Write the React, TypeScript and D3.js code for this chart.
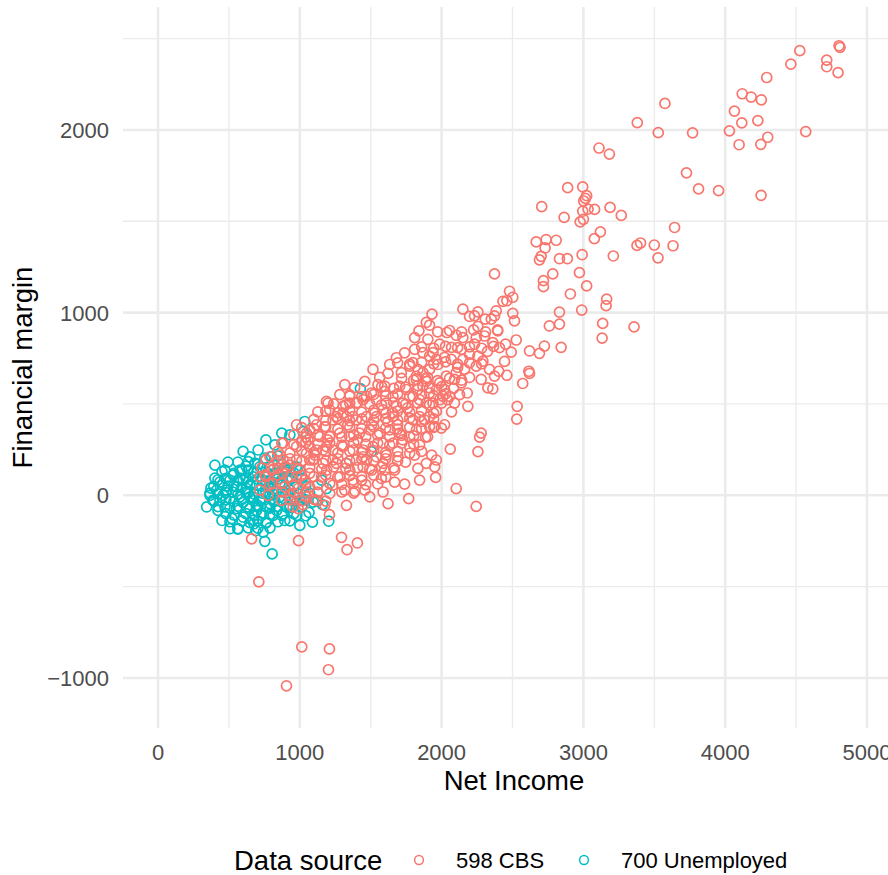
import React, { useEffect, useRef } from "react";
import * as d3 from "d3";

// Net Income vs Financial margin
const cbsPoints: [number, number][] = [
  [4803, 2461], [4810, 2452], [4526, 2434], [4463, 2360], [4716, 2382], [4716, 2346], [4796, 2314],
  [4293, 2287], [4120, 2198], [4183, 2180], [4255, 2165], [3575, 2145], [4065, 2103], [4117, 2039],
  [4230, 2051], [3380, 2040], [3528, 1985], [3770, 1984], [4030, 1995], [4568, 1991], [4300, 1960],
  [4098, 1919], [4251, 1921], [3110, 1901], [3183, 1868], [3727, 1765], [3812, 1677], [3953, 1668],
  [4253, 1642], [2889, 1684], [2995, 1688], [3023, 1640], [3014, 1625], [3002, 1611], [2995, 1555],
  [3033, 1566], [3079, 1565], [3188, 1576], [3267, 1532], [2864, 1521], [2977, 1497], [3000, 1511],
  [3643, 1466], [3120, 1442], [3077, 1405], [3378, 1368], [3403, 1381], [3500, 1370], [3632, 1366],
  [3526, 1300], [2991, 1317], [2887, 1295], [2831, 1295], [3211, 1310], [2972, 1219], [3023, 1146],
  [2908, 1102], [3164, 1074], [3160, 1038], [2988, 1014], [2831, 1003], [3136, 941], [3357, 922],
  [3132, 860], [2831, 937], [2843, 810],
  [2706, 1580], [2667, 1387], [2737, 1400], [2808, 1396], [2730, 1354], [2702, 1308], [2690, 1289],
  [2784, 1212], [2718, 1175], [2718, 1142], [2373, 1212], [2479, 1117], [2502, 1084], [2432, 1062],
  [2460, 1065], [2150, 1019], [2197, 979], [2256, 1004], [2232, 982], [2308, 964], [2350, 964],
  [2385, 1010], [2373, 982], [2502, 996], [2514, 955], [1932, 992], [1892, 946], [2760, 927],
  [2256, 924], [2396, 900], [1915, 931], [1840, 900], [1810, 863], [1903, 854], [2037, 891],
  [2103, 876], [2150, 863], [2244, 863], [2303, 872], [2361, 836], [2408, 808], [2451, 827],
  [2526, 850], [2491, 784], [2620, 790], [2690, 777], [2725, 817], [2615, 679], [2620, 667],
  [2572, 612], [2533, 487], [2530, 417], [2460, 657], [2361, 582], [2326, 588], [2279, 634],
  [2373, 652], [2403, 679], [2244, 707], [2181, 560], [2185, 487], [2091, 505], [2056, 542],
  [2139, 615], [2103, 671], [2068, 744], [2150, 744], [2197, 771], [2256, 762], [2291, 734],
  [2033, 652], [1986, 615], [2009, 542], [1963, 579], [1915, 560], [1868, 597], [1798, 726],
  [1810, 799], [1915, 762], [1963, 744], [1868, 671], [1822, 652], [1775, 707], [1716, 671],
  [1681, 753], [1622, 667], [1516, 689], [1551, 606], [1599, 569], [1657, 542], [1704, 597],
  [1751, 579], [1798, 542], [1845, 523], [1892, 505], [1939, 505], [1986, 523], [1727, 505],
  [1681, 487], [1610, 505], [1540, 523], [1470, 542], [1399, 505], [1352, 542], [1282, 551],
  [1305, 487], [1258, 431], [1329, 431], [1399, 413], [1470, 431], [1540, 431], [1587, 468],
  [1657, 431], [1727, 431], [1798, 413], [1845, 431], [1915, 431], [1963, 459], [1998, 368],
  [1915, 376], [1822, 358], [1775, 321], [1704, 340], [1634, 358], [1563, 340], [1493, 358],
  [1422, 340], [1352, 321], [1282, 340], [1211, 321], [1234, 248], [1305, 266], [1375, 248],
  [1446, 248], [1516, 266], [1587, 285], [1657, 285], [1692, 211], [1610, 220], [1540, 211],
  [1470, 193], [1399, 193], [1329, 175], [1258, 175], [1282, 101], [1375, 83], [1446, 156],
  [1575, 92], [1599, 138], [1810, 220], [1833, 147], [1892, 175], [1951, 156], [1958, 98],
  [1739, 61], [1768, -18], [1622, -46], [1493, -9], [1587, 18], [2061, 253], [2103, 37],
  [2256, 239], [2268, 318], [2279, 340], [2244, -61], [1329, -55],
  [1868, 781], [1939, 781], [1833, 689], [1915, 689], [1974, 716], [1822, 634], [1892, 624],
  [1599, 597], [1188, 514], [1352, 505], [1446, 523], [1505, 560], [1118, 386], [1176, 376],
  [1234, 413], [1305, 450], [1375, 431], [1528, 450], [1657, 450], [1880, 413], [1951, 376],
  [1058, 303], [1141, 321], [1188, 266], [1118, 248], [1047, 230], [1094, 193], [1164, 175],
  [1234, 193], [1446, 211], [1587, 175], [1963, 193],
  [977, 386], [1199, 505], [1047, 340], [882, 285], [977, 266], [1070, 266], [1164, 248],
  [789, 211], [882, 193], [977, 193], [1070, 193], [718, 101], [801, 138], [882, 120],
  [977, 101], [1070, 120], [1153, 101], [718, 28], [812, 64], [894, 46], [988, 37],
  [1070, 46], [871, -28], [953, -64], [1047, -9], [1118, -28], [988, -73],
  [660, -239], [991, -248], [711, -474], [1294, -230], [1333, -298], [1406, -261], [1209, -106],
  [1389, 22], [1014, -830], [1209, -841], [1202, -955], [906, -1043], [1023, -51],
  [1014, 292], [1106, 220], [1190, 138], [1232, 55], [930, 165], [1035, 83], [1127, 17],
  [1317, 28], [1352, 138], [1437, 83], [1507, 138], [1669, 138], [1746, 182], [1775, 264],
  [1725, 303], [1845, 276], [1901, 320], [2021, 386], [2070, 457], [2042, 523], [2127, 551],
  [2197, 645], [2113, 700], [2021, 755], [1986, 827], [2070, 810], [2141, 799], [1739, 780],
  [1634, 716], [1563, 645], [1458, 623], [1387, 590], [1317, 606], [1211, 468], [1127, 457],
  [1070, 358], [859, 220], [845, 149], [753, 110], [775, 0], [930, 0], [1176, -55],
  [1458, 28], [1669, 72], [1845, 83], [1930, 220], [1620, 402], [1690, 386], [1761, 479],
  [1831, 579], [1901, 645], [2021, 579], [2091, 634], [2162, 689], [2232, 827], [2324, 788],
  [2444, 733], [2338, 689], [1408, 303], [1507, 386], [1338, 386], [1197, 303],
  // dense core of the band
  [1718, 640], [1803, 630], [1887, 638], [1972, 628], [2056, 640], [2141, 630],
  [1577, 595], [1662, 585], [1746, 592], [1831, 600], [1915, 588], [2000, 595], [2084, 585],
  [1352, 550], [1437, 540], [1521, 552], [1606, 545], [1690, 555], [1775, 540], [1859, 550],
  [1944, 545], [2028, 555],
  [1239, 500], [1324, 495], [1408, 508], [1493, 500], [1577, 495], [1662, 508], [1746, 498],
  [1831, 505], [1915, 495], [2000, 505],
  [1183, 460], [1268, 452], [1352, 462], [1437, 455], [1521, 465], [1606, 450], [1690, 460],
  [1775, 455], [1859, 465], [1944, 450],
  [1099, 415], [1183, 410], [1268, 420], [1352, 408], [1437, 418], [1521, 410], [1606, 420],
  [1690, 412], [1775, 422], [1859, 405], [1944, 418],
  [1014, 370], [1099, 365], [1183, 375], [1268, 362], [1352, 372], [1437, 365], [1521, 375],
  [1606, 368], [1690, 362], [1775, 372], [1859, 365], [1944, 372],
  [958, 330], [1042, 320], [1127, 330], [1211, 325], [1296, 318], [1380, 330], [1465, 322],
  [1549, 330], [1634, 320], [1718, 328], [1803, 325], [1887, 318],
  [873, 285], [958, 278], [1042, 288], [1127, 280], [1211, 285], [1296, 275], [1380, 288],
  [1465, 280], [1549, 285], [1634, 275], [1718, 285], [1803, 280],
  [845, 240], [930, 232], [1014, 245], [1099, 235], [1183, 240], [1268, 232], [1352, 242],
  [1437, 235], [1521, 245], [1606, 235], [1690, 240], [1775, 230], [1859, 240],
  [761, 195], [845, 190], [930, 200], [1014, 188], [1099, 198], [1183, 190], [1268, 200],
  [1352, 188], [1437, 198], [1521, 190], [1606, 200], [1690, 188],
  [732, 150], [817, 145], [901, 155], [986, 148], [1070, 152], [1155, 145], [1239, 155],
  [1324, 148], [1408, 152], [1493, 145], [1577, 155], [1662, 150],
  [761, 105], [845, 110], [930, 100], [1014, 108], [1099, 102], [1183, 110], [1268, 100],
  [1352, 108], [1437, 102], [1521, 110], [1606, 100],
  [789, 60], [873, 65], [958, 58], [1042, 66], [1127, 58], [1211, 65], [1296, 60],
  [1380, 66], [1465, 58], [1549, 62],
  [873, 18], [958, 12], [1042, 20], [1127, 15], [1211, 10], [1296, 18], [1380, 12],
  [930, -25], [1014, -30], [1099, -22], [1183, -32],
  [1690, 725], [1775, 718], [1859, 728], [1944, 720], [2028, 730], [2113, 718], [2197, 725],
  [2282, 720],
  [1859, 812], [1944, 805], [2028, 815], [2113, 808], [2197, 812], [2282, 805], [2366, 815],
  [1972, 895], [2056, 902], [2141, 895], [2226, 905], [2310, 895], [2395, 905],
];

const unemployedPoints: [number, number][] = [
  [343, -64], [507, -183], [805, -321], [753, -252], [1089, -147], [1204, -142], [1160, -51],
  [1065, -94], [676, -156], [636, -178], [742, -202], [765, -147],
  [1427, 584], [1035, 404], [1023, 349], [1329, 175], [1505, 239],
  [930, 331], [824, 276], [706, 248], [801, 211], [636, 184], [718, 156], [577, 138],
  [530, 110], [437, 73], [507, 83], [601, 83], [671, 101], [413, 28], [484, 28],
  [554, 46], [625, 37], [695, 55], [437, -28], [507, -18], [577, -9], [648, -9],
  [718, -28], [789, 0], [859, -9], [930, 28], [472, -64], [554, -73], [625, -64],
  [695, -83], [765, -64], [836, -83], [906, -64], [601, -120], [671, -138], [812, -110],
  [882, -101], [1094, -37], [1000, -28], [765, 101], [836, 120], [906, 138], [977, 156],
  [859, 64], [777, 46],
  [458, 0], [387, -28], [423, -83], [528, 17], [599, -39], [669, -11], [739, 11],
  [810, 33], [880, 20], [634, 138], [683, 176], [753, 204], [563, 182], [472, 138],
  [401, 94], [373, 39], [634, 72], [732, 83], [824, 94], [944, 94], [1000, 138],
  [930, -55], [979, -110], [732, -110], [521, -127], [563, -182], [1188, 37], [1153, 83],
  [789, -46],
  [401, 165], [493, 182], [600, 240], [761, 303], [873, 340], [366, 0], [451, -138],
  [690, -193], [894, -138], [1000, -165], [704, -55], [634, 17], [789, 72], [894, 149],
  [493, 50], [577, 94], [697, 127], [824, -28], [965, -11],
  // dense core of the cluster
  [648, 210], [761, 195], [845, 215],
  [620, 160], [704, 170], [789, 158], [873, 172],
  [451, 130], [535, 120], [592, 135], [676, 125], [761, 130], [817, 118], [901, 128], [958, 122],
  [423, 85], [479, 92], [563, 80], [620, 95], [704, 88], [761, 78], [845, 90], [930, 85], [1014, 92],
  [394, 48], [451, 55], [535, 52], [592, 45], [648, 58], [732, 50], [789, 42], [873, 55],
  [958, 48], [1042, 52],
  [366, 12], [423, 8], [479, 15], [563, 5], [620, 18], [676, 8], [761, 15], [817, 5],
  [901, 12], [986, 8], [1070, 10],
  [394, -30], [479, -25], [535, -35], [592, -22], [676, -30], [732, -25], [817, -35],
  [873, -28], [958, -32], [1042, -25], [1127, -30],
  [423, -62], [507, -70], [563, -60], [648, -72], [704, -65], [789, -70], [845, -60],
  [930, -68], [1014, -62],
  [479, -100], [535, -108], [620, -100], [676, -110], [732, -98], [789, -105], [873, -110],
  [958, -100], [1042, -112],
  [507, -145], [592, -140], [648, -150], [704, -140], [761, -152], [845, -145], [930, -140],
  [563, -185], [704, -180], [789, -178],
];

const xMajor = [0, 1000, 2000, 3000, 4000, 5000];
const xMinor = [500, 1500, 2500, 3500, 4500];
const yMajor = [-1000, 0, 1000, 2000];
const yMinor = [-500, 500, 1500, 2500];
const sources = ["598 CBS", "700 Unemployed"];
const colors = ["#F8766D", "#00BFC4"];

const FONT = "'Liberation Sans', Arial, Helvetica, sans-serif";

const App = () => {
  const ref = useRef<SVGSVGElement>(null);

  useEffect(() => {
    document.body.style.margin = "0";
    const svg = d3.select(ref.current);
    svg.selectAll("*").remove();

    const panel = { left: 123, right: 905, top: 7, bottom: 728 };
    const x = d3.scaleLinear().domain([-247, 5268]).range([panel.left, panel.right]);
    const y = d3.scaleLinear().domain([-1274, 2673]).range([panel.bottom, panel.top]);

    const grid = svg.append("g");
    grid.selectAll(".xmin").data(xMinor).enter().append("line")
      .attr("x1", (d) => x(d)).attr("x2", (d) => x(d))
      .attr("y1", panel.top).attr("y2", panel.bottom)
      .attr("stroke", "#EBEBEB").attr("stroke-width", 1.3);
    grid.selectAll(".ymin").data(yMinor).enter().append("line")
      .attr("x1", panel.left).attr("x2", panel.right)
      .attr("y1", (d) => y(d)).attr("y2", (d) => y(d))
      .attr("stroke", "#EBEBEB").attr("stroke-width", 1.3);
    grid.selectAll(".xmaj").data(xMajor).enter().append("line")
      .attr("x1", (d) => x(d)).attr("x2", (d) => x(d))
      .attr("y1", panel.top).attr("y2", panel.bottom)
      .attr("stroke", "#EBEBEB").attr("stroke-width", 2.6);
    grid.selectAll(".ymaj").data(yMajor).enter().append("line")
      .attr("x1", panel.left).attr("x2", panel.right)
      .attr("y1", (d) => y(d)).attr("y2", (d) => y(d))
      .attr("stroke", "#EBEBEB").attr("stroke-width", 2.6);

    // tick labels
    svg.append("g").selectAll("text").data(xMajor).enter().append("text")
      .attr("x", (d) => x(d)).attr("y", 760)
      .attr("text-anchor", "middle").attr("font-family", FONT)
      .attr("font-size", 22).attr("fill", "#4D4D4D")
      .text((d) => d3.format("d")(d));
    svg.append("g").selectAll("text").data(yMajor).enter().append("text")
      .attr("x", 109).attr("y", (d) => y(d) + 8)
      .attr("text-anchor", "end").attr("font-family", FONT)
      .attr("font-size", 22).attr("fill", "#4D4D4D")
      .text((d) => (d < 0 ? "\u2212" + Math.abs(d) : String(d)));

    // axis titles
    svg.append("text")
      .attr("x", (panel.left + panel.right) / 2).attr("y", 790)
      .attr("text-anchor", "middle").attr("font-family", FONT)
      .attr("font-size", 27.5).attr("fill", "black")
      .text("Net Income");
    svg.append("text")
      .attr("transform", `translate(32,${(panel.top + panel.bottom) / 2}) rotate(-90)`)
      .attr("text-anchor", "middle").attr("font-family", FONT)
      .attr("font-size", 27.5).attr("fill", "black")
      .text("Financial margin");

    // points: unemployed first, CBS on top
    const pts = svg.append("g").attr("fill", "none").attr("stroke-width", 1.7);
    pts.selectAll(".u").data(unemployedPoints).enter().append("circle")
      .attr("cx", (d) => x(d[0])).attr("cy", (d) => y(d[1])).attr("r", 5)
      .attr("stroke", colors[1]);
    pts.selectAll(".c").data(cbsPoints).enter().append("circle")
      .attr("cx", (d) => x(d[0])).attr("cy", (d) => y(d[1])).attr("r", 5)
      .attr("stroke", colors[0]);

    // legend
    const lg = svg.append("g").attr("font-family", FONT);
    lg.append("text").attr("x", 234).attr("y", 870)
      .attr("font-size", 27.5).attr("fill", "black").text("Data source");
    const keyX = [419, 584];
    sources.forEach((s, i) => {
      lg.append("circle").attr("cx", keyX[i]).attr("cy", 860).attr("r", 4.4)
        .attr("fill", "none").attr("stroke", colors[i]).attr("stroke-width", 1.5);
      lg.append("text").attr("x", keyX[i] + 37).attr("y", 868)
        .attr("font-size", 22).attr("fill", "black").text(s);
    });
  }, []);

  return <svg ref={ref} width={888} height={875} style={{ display: "block" }} />;
};

export default App;
